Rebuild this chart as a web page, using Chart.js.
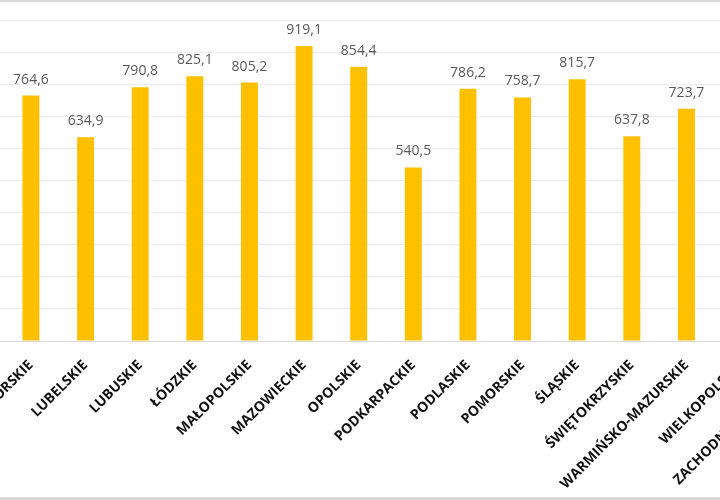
<!DOCTYPE html>
<html>
<head>
<meta charset="utf-8">
<script src="https://cdn.jsdelivr.net/npm/chart.js@4"></script>
<style>
  html, body { margin: 0; padding: 0; background: #fff; }
  .frame { position: relative; width: 720px; height: 500px; overflow: hidden; background: #fff; }
  .frame canvas { position: absolute; left: -51px; top: 0; }
  .edge { position: absolute; left: 0; width: 720px; background: #d9d9d9; }
</style>
</head>
<body>
<div class="frame">
  <canvas id="chart" width="874" height="500"></canvas>
  <div class="edge" style="top:0;height:2px"></div>
  <div class="edge" style="top:497px;height:3px"></div>
</div>
<script>
// voivodeships; the first and last two lie outside the visible crop
const categories = [
  'DOLNOŚLĄSKIE', 'KUJAWSKO-POMORSKIE', 'LUBELSKIE', 'LUBUSKIE', 'ŁÓDZKIE',
  'MAŁOPOLSKIE', 'MAZOWIECKIE', 'OPOLSKIE', 'PODKARPACKIE', 'PODLASKIE',
  'POMORSKIE', 'ŚLĄSKIE', 'ŚWIĘTOKRZYSKIE', 'WARMIŃSKO-MAZURSKIE',
  'WIELKOPOLSKIE', 'ZACHODNIOPOMORSKIE'
]
// values of bars cut off by the crop are unknown -> null
const values = [
  null, 764.6, 634.9, 790.8, 825.1,
  805.2, 919.1, 854.4, 540.5, 786.2,
  758.7, 815.7, 637.8, 723.7,
  null, null
]
const yMin = 0
const yMax = 1000
const yStep = 100

const fmt = v => v.toFixed(1).replace('.', ',')

const valueLabels = {
  id: 'valueLabels',
  afterDatasetsDraw(chart) {
    const ctx = chart.ctx
    const meta = chart.getDatasetMeta(0)
    ctx.save()
    ctx.font = '14px "Open Sans"'
    ctx.fillStyle = '#595959'
    ctx.textAlign = 'center'
    ctx.textBaseline = 'alphabetic'
    meta.data.forEach((bar, i) => {
      const v = values[i]
      if (v == null) return
      ctx.fillText(fmt(v), bar.x, bar.y - 12)
    })
    ctx.restore()
  }
}

new Chart(document.getElementById('chart'), {
  type: 'bar',
  data: {
    labels: categories,
    datasets: [{
      data: values,
      backgroundColor: '#FFC000',
      borderWidth: 0,
      categoryPercentage: 1,
      barPercentage: 0.31
    }]
  },
  options: {
    responsive: false,
    animation: false,
    layout: { padding: { top: 20, left: 0, right: 0, bottom: 0 } },
    plugins: {
      legend: { display: false },
      tooltip: { enabled: false }
    },
    scales: {
      x: {
        grid: { display: false },
        border: { display: true, color: '#d9d9d9', width: 1 },
        ticks: {
          autoSkip: false,
          minRotation: 45,
          maxRotation: 45,
          padding: 8,
          color: '#111',
          font: { family: '"Open Sans"', size: 14, weight: 'bold' }
        },
        afterFit(scale) {
          scale.height = 159
          scale.paddingLeft = 0
          scale.paddingRight = 0
        }
      },
      y: {
        min: yMin,
        max: yMax,
        ticks: { display: false, stepSize: yStep },
        border: { display: false },
        grid: { color: '#ececec', drawTicks: false },
        afterFit(scale) {
          scale.width = 0
        }
      }
    }
  },
  plugins: [valueLabels]
})
</script>
</body>
</html>
